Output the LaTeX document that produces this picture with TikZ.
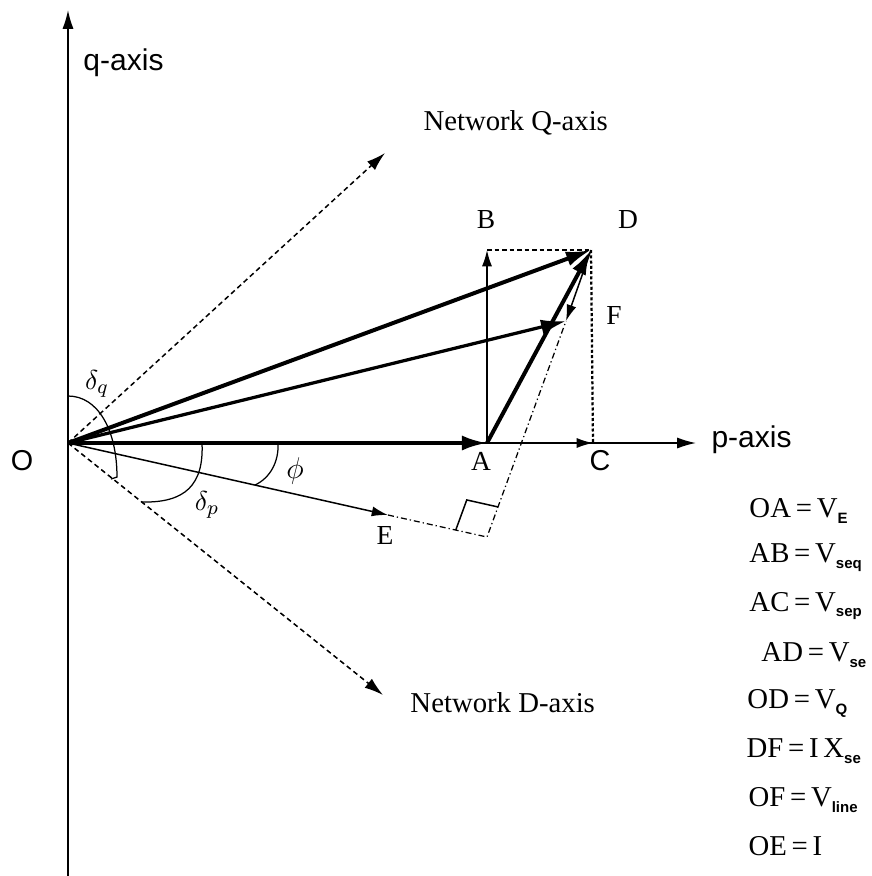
\documentclass[tikz,border=0pt]{standalone}
\usepackage{fontspec}
\setmainfont{Liberation Serif}
\setsansfont{Liberation Sans}
\usetikzlibrary{arrows.meta, calc}

\newcommand{\vsub}[1]{\raisebox{-0.45ex}{\sffamily\bfseries\fontsize{6}{7}\selectfont #1}}

\begin{document}
\begin{tikzpicture}[
    x=0.4pt, y=-0.4pt,
    vec/.style={-{Latex[length=10pt, width=6pt]}, line width=1.6pt},
    thinvec/.style={-{Latex[length=6.5pt, width=4pt]}, line width=0.6pt},
    axisarr/.style={-{Latex[length=7.5pt, width=4.4pt]}, line width=0.6pt},
    netaxis/.style={-{Latex[length=7.5pt, width=4.6pt]}, line width=0.6pt,
      dash pattern=on 2pt off 1.4pt},
    proj/.style={line width=0.6pt, dash pattern=on 1.8pt off 1.2pt},
    dashdot/.style={line width=0.5pt,
      dash pattern=on 2.4pt off 1.2pt on 0.5pt off 1.2pt},
    angarc/.style={line width=0.5pt},
    ptlbl/.style={font=\fontsize{11}{13}\selectfont, inner sep=0pt},
    axlbl/.style={font=\sffamily\fontsize{12}{14}\selectfont, inner sep=0pt, anchor=west},
    netlbl/.style={font=\fontsize{11.5}{14}\selectfont, inner sep=0pt, anchor=west},
    legend/.style={font=\fontsize{11.5}{14}\selectfont, inner sep=0pt, anchor=west}
  ]
  \useasboundingbox (0,0) rectangle (872,876);

  % phasor points
  \coordinate (O) at (68,443);
  \coordinate (A) at (487,443);
  \coordinate (B) at (487,250);
  \coordinate (C) at (593,443);
  \coordinate (D) at (591,250);
  \coordinate (F) at (566,321);
  \coordinate (E) at (388,515);
  \coordinate (K) at (487,537);
  \coordinate (qtop) at (68,10);
  \coordinate (qbot) at (68,876);
  \coordinate (pend) at (696,443);
  \coordinate (Qnet) at (385,153);
  \coordinate (Dnet) at (383,695);

  % axes
  \draw[axisarr] (qbot) -- (qtop);
  \draw[axisarr] (O) -- (pend);
  \draw[netaxis] (O) -- (Qnet);
  \draw[netaxis] (O) -- (Dnet);

  % projections
  \draw[proj] (B) -- (D);
  \draw[proj, line width=0.9pt, dash pattern=on 1.2pt off 0.9pt] (D) -- (C);
  \draw[dashdot] (E) -- (K) -- (F);
  \coordinate (m1) at ($(K)!12.8pt!(O)$);
  \coordinate (m2) at ($(K)!12.8pt!(F)$);
  \draw[line width=0.6pt] (m1) -- ($(m1)+(m2)-(K)$) -- (m2);

  % vectors
  \draw[thinvec] (A) -- (B);
  \draw[thinvec] (A) -- (C);
  \draw[vec] (O) -- (A);
  \draw[vec] (O) -- (D);
  \draw[vec] (A) -- (D);
  \draw[vec, line width=1.3pt] (O) -- (F);
  \draw[thinvec] (D) -- (F);
  \draw[thinvec] (O) -- (E);

  % angles
  \draw[angarc] (278,443) .. controls (279,462) and (270,478) .. (255,485);
  \draw[angarc] (202,443) .. controls (204,485) and (185,503) .. (142,502);
  \draw[angarc] (68,396) .. controls (98,396) and (117,430) .. (117,477) -- (111,479);

  % labels
  \node[ptlbl] (lblB) at (486,220) {B};
  \node[ptlbl] (lblD) at (628,220) {D};
  \node[ptlbl] (lblF) at (614,315) {F};
  \node[ptlbl] (lblA) at (481,461) {A};
  \node[ptlbl, font=\sffamily\fontsize{11.5}{13}\selectfont] (lblC) at (600,461) {C};
  \node[ptlbl, font=\sffamily\fontsize{11.5}{13}\selectfont] (lblO) at (22,461) {O};
  \node[ptlbl] (lblE) at (385,535) {E};
  \node[ptlbl, font=\fontsize{13}{15}\selectfont] (lblphi) at (295,471) {$\phi$};
  \node[ptlbl] (lbldq) at (97,384) {$\delta_q$};
  \node[ptlbl] (lbldp) at (207,505) {$\delta_p$};
  \node[axlbl] (lblq) at (83,63) {q-axis};
  \node[axlbl] (lblp) at (711,440) {p-axis};
  \node[netlbl] (lblQnet) at (423,123) {Network Q-axis};
  \node[netlbl] (lblDnet) at (410,703) {Network D-axis};

  % legend
  \node[legend] (eqOA) at (749,511) {OA\,=\,V\vsub{E}};
  \node[legend] (eqAB) at (749,558) {AB\,=\,V\vsub{seq}};
  \node[legend] (eqAC) at (749,606) {AC\,=\,V\vsub{sep}};
  \node[legend] (eqAD) at (761,655) {AD\,=\,V\vsub{se}};
  \node[legend] (eqOD) at (747,703) {OD\,=\,V\vsub{Q}};
  \node[legend] (eqDF) at (746,751) {DF\,=\,I\,X\vsub{se}};
  \node[legend] (eqOF) at (748,800) {OF\,=\,V\vsub{line}};
  \node[legend] (eqOE) at (748,846) {OE\,=\,I};
\end{tikzpicture}
\end{document}
